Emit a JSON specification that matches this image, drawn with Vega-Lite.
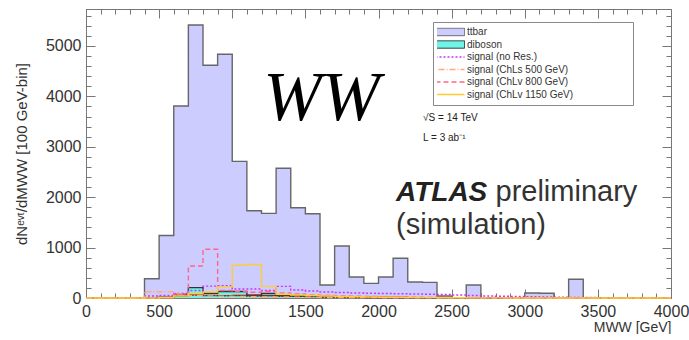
{
  "$schema": "https://vega.github.io/schema/vega-lite/v6.json",
  "width": 585,
  "height": 289,
  "autosize": {"type": "pad"},
  "padding": {"left": 14, "top": 8, "right": 0, "bottom": 0},
  "background": "white",
  "config": {
    "view": {"stroke": "#777777", "strokeWidth": 1},
    "axis": {"grid": false, "domain": false, "zindex": 1, "labelFont": "Liberation Sans", "labelFontSize": 16, "labelColor": "#333333", "tickColor": "#777777", "tickWidth": 1, "titleFont": "Liberation Sans", "titleFontWeight": "normal", "titleColor": "#333333", "titleFontSize": 15, "labelFlush": false, "format": "d"},
    "text": {"font": "Liberation Sans"}
  },
  "data": {"values": [
    {"m":0,"other":0,"ttbar":0,"diboson":0,"noRes":0,"ChLs500":0,"ChLv800":0,"ChLv1150":0},
    {"m":100,"other":0,"ttbar":0,"diboson":0,"noRes":0,"ChLs500":0,"ChLv800":0,"ChLv1150":0},
    {"m":200,"other":0,"ttbar":0,"diboson":0,"noRes":0,"ChLs500":0,"ChLv800":0,"ChLv1150":0},
    {"m":300,"other":0,"ttbar":0,"diboson":0,"noRes":0,"ChLs500":0,"ChLv800":0,"ChLv1150":0},
    {"m":400,"other":0,"ttbar":383,"diboson":0,"noRes":40,"ChLs500":125,"ChLv800":0,"ChLv1150":0},
    {"m":500,"other":10,"ttbar":1240,"diboson":10,"noRes":50,"ChLs500":125,"ChLv800":10,"ChLv1150":5},
    {"m":600,"other":75,"ttbar":3810,"diboson":40,"noRes":90,"ChLs500":80,"ChLv800":60,"ChLv1150":40},
    {"m":700,"other":60,"ttbar":5417,"diboson":205,"noRes":150,"ChLs500":50,"ChLv800":635,"ChLv1150":90},
    {"m":800,"other":50,"ttbar":4617,"diboson":95,"noRes":235,"ChLs500":40,"ChLv800":966,"ChLv1150":120},
    {"m":900,"other":45,"ttbar":4835,"diboson":130,"noRes":245,"ChLs500":35,"ChLv800":150,"ChLv1150":220},
    {"m":1000,"other":50,"ttbar":2710,"diboson":130,"noRes":180,"ChLs500":30,"ChLv800":125,"ChLv1150":650},
    {"m":1100,"other":60,"ttbar":1730,"diboson":40,"noRes":180,"ChLs500":25,"ChLv800":115,"ChLv1150":665},
    {"m":1200,"other":45,"ttbar":1680,"diboson":90,"noRes":150,"ChLs500":20,"ChLv800":135,"ChLv1150":230},
    {"m":1300,"other":40,"ttbar":2575,"diboson":40,"noRes":230,"ChLs500":20,"ChLv800":100,"ChLv1150":75},
    {"m":1400,"other":40,"ttbar":1790,"diboson":35,"noRes":160,"ChLs500":15,"ChLv800":80,"ChLv1150":60},
    {"m":1500,"other":35,"ttbar":1673,"diboson":30,"noRes":140,"ChLs500":15,"ChLv800":60,"ChLv1150":50},
    {"m":1600,"other":30,"ttbar":258,"diboson":20,"noRes":120,"ChLs500":10,"ChLv800":50,"ChLv1150":40},
    {"m":1700,"other":25,"ttbar":1032,"diboson":20,"noRes":110,"ChLs500":10,"ChLv800":40,"ChLv1150":30},
    {"m":1800,"other":20,"ttbar":417,"diboson":15,"noRes":100,"ChLs500":10,"ChLv800":35,"ChLv1150":25},
    {"m":1900,"other":15,"ttbar":291,"diboson":10,"noRes":95,"ChLs500":8,"ChLv800":30,"ChLv1150":20},
    {"m":2000,"other":10,"ttbar":417,"diboson":10,"noRes":90,"ChLs500":5,"ChLv800":25,"ChLv1150":15},
    {"m":2100,"other":10,"ttbar":788,"diboson":8,"noRes":85,"ChLs500":5,"ChLv800":20,"ChLv1150":12},
    {"m":2200,"other":8,"ttbar":317,"diboson":5,"noRes":80,"ChLs500":5,"ChLv800":15,"ChLv1150":10},
    {"m":2300,"other":5,"ttbar":310,"diboson":5,"noRes":75,"ChLs500":4,"ChLv800":12,"ChLv1150":8},
    {"m":2400,"other":5,"ttbar":40,"diboson":3,"noRes":70,"ChLs500":3,"ChLv800":10,"ChLv1150":5},
    {"m":2500,"other":3,"ttbar":0,"diboson":2,"noRes":60,"ChLs500":2,"ChLv800":8,"ChLv1150":4},
    {"m":2600,"other":2,"ttbar":258,"diboson":2,"noRes":50,"ChLs500":2,"ChLv800":6,"ChLv1150":3},
    {"m":2700,"other":2,"ttbar":0,"diboson":1,"noRes":40,"ChLs500":1,"ChLv800":5,"ChLv1150":2},
    {"m":2800,"other":1,"ttbar":0,"diboson":0,"noRes":35,"ChLs500":1,"ChLv800":4,"ChLv1150":2},
    {"m":2900,"other":1,"ttbar":0,"diboson":0,"noRes":30,"ChLs500":0,"ChLv800":3,"ChLv1150":1},
    {"m":3000,"other":0,"ttbar":99,"diboson":0,"noRes":25,"ChLs500":0,"ChLv800":2,"ChLv1150":1},
    {"m":3100,"other":0,"ttbar":95,"diboson":0,"noRes":20,"ChLs500":0,"ChLv800":2,"ChLv1150":1},
    {"m":3200,"other":0,"ttbar":0,"diboson":0,"noRes":15,"ChLs500":0,"ChLv800":1,"ChLv1150":0},
    {"m":3300,"other":0,"ttbar":371,"diboson":0,"noRes":12,"ChLs500":0,"ChLv800":1,"ChLv1150":0},
    {"m":3400,"other":0,"ttbar":0,"diboson":0,"noRes":10,"ChLs500":0,"ChLv800":0,"ChLv1150":0},
    {"m":3500,"other":0,"ttbar":0,"diboson":0,"noRes":8,"ChLs500":0,"ChLv800":0,"ChLv1150":0},
    {"m":3600,"other":0,"ttbar":0,"diboson":0,"noRes":6,"ChLs500":0,"ChLv800":0,"ChLv1150":0},
    {"m":3700,"other":0,"ttbar":0,"diboson":0,"noRes":5,"ChLs500":0,"ChLv800":0,"ChLv1150":0},
    {"m":3800,"other":0,"ttbar":0,"diboson":0,"noRes":4,"ChLs500":0,"ChLv800":0,"ChLv1150":0},
    {"m":3900,"other":0,"ttbar":0,"diboson":0,"noRes":3,"ChLs500":0,"ChLv800":0,"ChLv1150":0},
    {"m":4000,"other":0,"ttbar":0,"diboson":0,"noRes":0,"ChLs500":0,"ChLv800":0,"ChLv1150":0}
  ]},
  "transform": [{"fold": ["other","ttbar","diboson","noRes","ChLs500","ChLv800","ChLv1150"], "as": ["series","n"]}],
  "layer": [
    {
      "transform": [{"filter": "datum.series === 'ttbar'"}],
      "mark": {"type": "area", "interpolate": "step-after", "fill": "#ccccff", "fillOpacity": 1},
      "encoding": {
        "x": {"field": "m", "type": "quantitative", "scale": {"domain": [0, 4000], "nice": false}, "axis": {"orient": "bottom", "values": [0,500,1000,1500,2000,2500,3000,3500,4000], "ticks": false, "labelPadding": 5, "title": "MWW [GeV]", "titleAnchor": "end", "titleAlign": "right", "titlePadding": 1, "titleFontSize": 14}},
        "y": {"field": "n", "type": "quantitative", "scale": {"domain": [0, 5734], "nice": false, "zero": true}, "axis": {"orient": "left", "values": [0,1000,2000,3000,4000,5000], "ticks": false, "labelPadding": 5, "title": "dNᵉᵛᵗ/dMWW [100 GeV-bin]", "titlePadding": 16}}
      }
    },
    {
      "transform": [{"filter": "datum.series === 'diboson'"}],
      "mark": {"type": "area", "interpolate": "step-after", "fill": "#6ff5e6", "fillOpacity": 1},
      "encoding": {
        "x": {"field": "m", "type": "quantitative", "scale": {"domain": [0, 4000], "nice": false}, "axis": {"orient": "bottom", "values": [0,500,1000,1500,2000,2500,3000,3500,4000], "labels": false, "tickSize": -9, "title": null}},
        "y": {"field": "n", "type": "quantitative", "scale": {"domain": [0, 5734], "nice": false}, "axis": {"orient": "left", "values": [0,1000,2000,3000,4000,5000], "labels": false, "tickSize": -9, "title": null}}
      }
    },
    {
      "mark": {"type": "line", "interpolate": "step-after", "strokeWidth": 1.4},
      "encoding": {
        "x": {"field": "m", "type": "quantitative", "scale": {"domain": [0, 4000], "nice": false}, "axis": {"orient": "bottom", "values": [0,100,200,300,400,500,600,700,800,900,1000,1100,1200,1300,1400,1500,1600,1700,1800,1900,2000,2100,2200,2300,2400,2500,2600,2700,2800,2900,3000,3100,3200,3300,3400,3500,3600,3700,3800,3900,4000], "labels": false, "tickSize": -5, "title": null}},
        "y": {"field": "n", "type": "quantitative", "scale": {"domain": [0, 5734], "nice": false}, "axis": {"orient": "left", "values": [0,200,400,600,800,1000,1200,1400,1600,1800,2000,2200,2400,2600,2800,3000,3200,3400,3600,3800,4000,4200,4400,4600,4800,5000,5200,5400,5600], "labels": false, "tickSize": -5, "title": null}},
        "color": {
          "field": "series", "type": "nominal",
          "scale": {"domain": ["ttbar","diboson","noRes","ChLs500","ChLv800","ChLv1150","other"], "range": ["#666666","#333333","#cc33ff","#ffaa77","#ff6688","#ffcc33","#992222"]},
          "legend": {
            "orient": "none", "legendX": 347, "legendY": 13, "title": null,
            "values": ["ttbar","diboson","noRes","ChLs500","ChLv800","ChLv1150"],
            "labelExpr": "{'ttbar':'ttbar','diboson':'diboson','noRes':'signal (no Res.)','ChLs500':'signal (ChLs 500 GeV)','ChLv800':'signal (ChLv 800 GeV)','ChLv1150':'signal (ChLv 1150 GeV)                    ​'}[datum.value]",
            "symbolType": "stroke", "symbolSize": 1369, "clipHeight": 12, "rowPadding": 0.5,
            "padding": 4, "symbolOffset": 4, "labelOffset": 16,
            "labelFont": "Liberation Sans", "labelFontSize": 10, "labelColor": "#333333", "labelLimit": 400,
            "strokeColor": "#888888", "fillColor": "white", "symbolStrokeWidth": 1.5,
            "encode": {"symbols": {"update": {
              "shape": {"signal": "(datum.value === 'ttbar' || datum.value === 'diboson') ? 'M-1,-0.2H1V0.2H-1Z' : 'stroke'"},
              "fill": {"signal": "datum.value === 'ttbar' ? '#ccccff' : (datum.value === 'diboson' ? '#6ff5e6' : 'transparent')"},
              "stroke": {"signal": "datum.value === 'ttbar' ? '#8888cc' : scale('color', datum.value)"},
              "strokeDash": {"signal": "datum.value === 'noRes' ? [2,2] : (datum.value === 'ChLs500' ? [6,2,1,2] : (datum.value === 'ChLv800' ? [5,3] : [1,0]))"},
              "strokeWidth": {"signal": "(datum.value === 'ttbar' || datum.value === 'diboson') ? 1 : 1.5"},
              "opacity": {"value": 1}
            }}}
          }
        },
        "strokeDash": {
          "field": "series", "type": "nominal",
          "scale": {"domain": ["ttbar","diboson","noRes","ChLs500","ChLv800","ChLv1150","other"], "range": [[1,0],[1,0],[2,2],[6,2,1,2],[5,3],[1,0],[1,0]]},
          "legend": null
        }
      }
    },
    {
      "data": {"values": [{"label": "WW"}]},
      "mark": {"type": "text", "font": "Liberation Serif", "fontStyle": "italic", "fontSize": 70, "color": "#000000", "align": "center", "baseline": "alphabetic"},
      "encoding": {
        "x": {"datum": 1610, "type": "quantitative", "scale": {"domain": [0, 4000], "nice": false}, "axis": {"orient": "top", "values": [0,500,1000,1500,2000,2500,3000,3500,4000], "labels": false, "tickSize": -9, "title": null}},
        "y": {"datum": 3530, "type": "quantitative", "scale": {"domain": [0, 5734], "nice": false}, "axis": {"orient": "right", "values": [0,1000,2000,3000,4000,5000], "labels": false, "tickSize": -9, "title": null}},
        "text": {"field": "label"}
      }
    },
    {
      "data": {"values": [{"label": "√S = 14 TeV"}]},
      "mark": {"type": "text", "fontSize": 10, "color": "#222222", "align": "left", "baseline": "middle"},
      "encoding": {
        "x": {"datum": 2305, "type": "quantitative", "scale": {"domain": [0, 4000], "nice": false}, "axis": {"orient": "top", "values": [0,100,200,300,400,500,600,700,800,900,1000,1100,1200,1300,1400,1500,1600,1700,1800,1900,2000,2100,2200,2300,2400,2500,2600,2700,2800,2900,3000,3100,3200,3300,3400,3500,3600,3700,3800,3900,4000], "labels": false, "tickSize": -5, "title": null}},
        "y": {"datum": 3571, "type": "quantitative", "scale": {"domain": [0, 5734], "nice": false}, "axis": {"orient": "right", "values": [0,200,400,600,800,1000,1200,1400,1600,1800,2000,2200,2400,2600,2800,3000,3200,3400,3600,3800,4000,4200,4400,4600,4800,5000,5200,5400,5600], "labels": false, "tickSize": -5, "title": null}},
        "text": {"field": "label"}
      }
    },
    {
      "data": {"values": [{"label": "L = 3 ab⁻¹"}]},
      "mark": {"type": "text", "fontSize": 10, "color": "#222222", "align": "left", "baseline": "middle"},
      "encoding": {
        "x": {"datum": 2305, "type": "quantitative", "axis": null},
        "y": {"datum": 3175, "type": "quantitative", "axis": null},
        "text": {"field": "label"}
      }
    },
    {
      "data": {"values": [{"label": "ATLAS"}]},
      "mark": {"type": "text", "fontSize": 28, "fontWeight": "bold", "fontStyle": "italic", "color": "#222222", "align": "left", "baseline": "alphabetic"},
      "encoding": {
        "x": {"datum": 2120, "type": "quantitative", "axis": null},
        "y": {"datum": 1925, "type": "quantitative", "axis": null},
        "text": {"field": "label"}
      }
    },
    {
      "data": {"values": [{"label": "preliminary"}]},
      "mark": {"type": "text", "fontSize": 29, "color": "#333333", "align": "left", "baseline": "alphabetic"},
      "encoding": {
        "x": {"datum": 2800, "type": "quantitative", "axis": null},
        "y": {"datum": 1925, "type": "quantitative", "axis": null},
        "text": {"field": "label"}
      }
    },
    {
      "data": {"values": [{"label": "(simulation)"}]},
      "mark": {"type": "text", "fontSize": 29, "color": "#333333", "align": "left", "baseline": "alphabetic"},
      "encoding": {
        "x": {"datum": 2120, "type": "quantitative", "axis": null},
        "y": {"datum": 1270, "type": "quantitative", "axis": null},
        "text": {"field": "label"}
      }
    }
  ],
  "resolve": {"axis": {"x": "independent", "y": "independent"}}
}
